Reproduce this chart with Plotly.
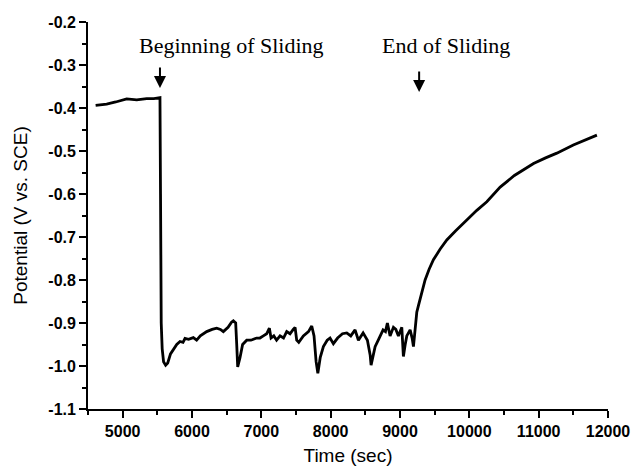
import plotly.graph_objects as go

time_s = [4610, 4700, 4769, 4900, 5058, 5203, 5346, 5450, 5538,
          5546, 5556, 5570, 5590, 5620, 5650, 5690, 5730, 5780, 5827, 5870, 5899, 5950,
          6019, 6067, 6120, 6212, 6290, 6356, 6410, 6452, 6520, 6570, 6596, 6630,
          6645, 6659, 6693, 6730, 6789, 6850, 6933, 6980, 7029, 7077, 7116, 7140,
          7180, 7220, 7270, 7320, 7366, 7414, 7460, 7487, 7510, 7540, 7606, 7680,
          7727, 7760, 7790, 7815, 7850, 7895, 7950, 7991, 8039, 8100, 8170, 8232,
          8290, 8352, 8400, 8440, 8468, 8530, 8570, 8583, 8641, 8700, 8756, 8790,
          8818, 8857, 8905, 8940, 8977, 9026, 9040, 9049, 9075, 9098, 9146, 9175,
          9194, 9218, 9242, 9265, 9290, 9330, 9362, 9420, 9482, 9580, 9675, 9800,
          9915, 10108, 10252, 10445, 10650, 10926, 11100, 11262, 11500, 11700, 11840]
potential = [-0.394, -0.393, -0.391, -0.386, -0.379, -0.381, -0.378, -0.378, -0.376,
             -0.60, -0.90, -0.96, -0.99, -0.998, -0.993, -0.972, -0.963, -0.95, -0.943, -0.945, -0.936, -0.938,
             -0.934, -0.94, -0.93, -0.92, -0.915, -0.912, -0.915, -0.92, -0.91, -0.898, -0.895, -0.90,
             -0.95, -1.002, -0.98, -0.95, -0.94, -0.94, -0.935, -0.935, -0.93, -0.925, -0.912, -0.935,
             -0.93, -0.94, -0.93, -0.935, -0.92, -0.925, -0.915, -0.91, -0.94, -0.945, -0.93, -0.92,
             -0.907, -0.93, -0.99, -1.017, -0.98, -0.955, -0.94, -0.935, -0.948, -0.935, -0.925, -0.923,
             -0.93, -0.916, -0.94, -0.93, -0.923, -0.94, -0.975, -0.998, -0.955, -0.935, -0.916, -0.92,
             -0.90, -0.93, -0.91, -0.915, -0.93, -0.91, -0.94, -0.978, -0.95, -0.93, -0.916, -0.935,
             -0.955, -0.909, -0.875, -0.86, -0.845, -0.82, -0.80, -0.775, -0.753, -0.728, -0.707, -0.686,
             -0.668, -0.638, -0.618, -0.584, -0.557, -0.529, -0.516, -0.505, -0.486, -0.473, -0.463]

y_ticks = [-1.1, -1.0, -0.9, -0.8, -0.7, -0.6, -0.5, -0.4, -0.3, -0.2]
y_tick_labels = ["-1.1", "-1.0", "-0.9", "-0.8", "-0.7", "-0.6", "-0.5", "-0.4", "-0.3", "-0.2"]
x_ticks = [5000, 6000, 7000, 8000, 9000, 10000, 11000, 12000]
x_tick_labels = ["5000", "6000", "7000", "8000", "9000", "10000", "11000", "12000"]

events = ["Beginning of Sliding", "End of Sliding"]
event_times = [5538, 9276]
label_times = [6563, 9665]

fig = go.Figure()
fig.add_trace(go.Scatter(x=time_s, y=potential, mode="lines",
                         line=dict(color="black", width=2.8), showlegend=False))

arrow_tips = [-0.3535, -0.363]
for name, t, lt, tip in zip(events, event_times, label_times, arrow_tips):
    fig.add_annotation(x=t, y=tip, xref="x", yref="y", text="", showarrow=True,
                       arrowhead=2, arrowsize=1.2, arrowwidth=2, arrowcolor="black",
                       ax=0, ay=-22)
    fig.add_annotation(x=lt, y=-0.2535, xref="x", yref="y", text=name, showarrow=False,
                       font=dict(family="Liberation Serif", size=22, color="black"),
                       xanchor="center", yanchor="middle")

axis_font = dict(family="Liberation Sans, Arial", size=16, color="black", weight="bold")
title_font = dict(family="Liberation Sans, Arial", size=19, color="black")
fig.update_xaxes(range=[4500, 12000], tickvals=x_ticks, ticktext=x_tick_labels,
                 ticks="outside", ticklen=7, automargin=False,
                 tickwidth=1.5, tickcolor="black", showline=True, linecolor="black",
                 linewidth=1.8, showgrid=False, zeroline=False, tickfont=axis_font,
                 minor=dict(dtick=500, tick0=4500, ticks="outside", ticklen=4,
                            tickwidth=1.5, tickcolor="black"),
                 title=dict(text="Time (sec)", font=title_font, standoff=10))
fig.update_yaxes(range=[-1.1, -0.2], tickvals=y_ticks, ticktext=y_tick_labels,
                 ticks="outside", ticklen=7, tickwidth=1.5, tickcolor="black",
                 automargin=False,
                 showline=True, linecolor="black", linewidth=1.8, showgrid=False,
                 zeroline=False, tickfont=axis_font,
                 minor=dict(dtick=0.05, tick0=-1.1, ticks="outside", ticklen=4,
                            tickwidth=1.5, tickcolor="black"),
                 title=dict(text="Potential (V vs. SCE)", font=title_font, standoff=16))

fig.update_layout(width=633, height=468, margin=dict(l=88, r=25, t=22, b=59),
                  plot_bgcolor="white", paper_bgcolor="white")
fig.write_html("out.html")
